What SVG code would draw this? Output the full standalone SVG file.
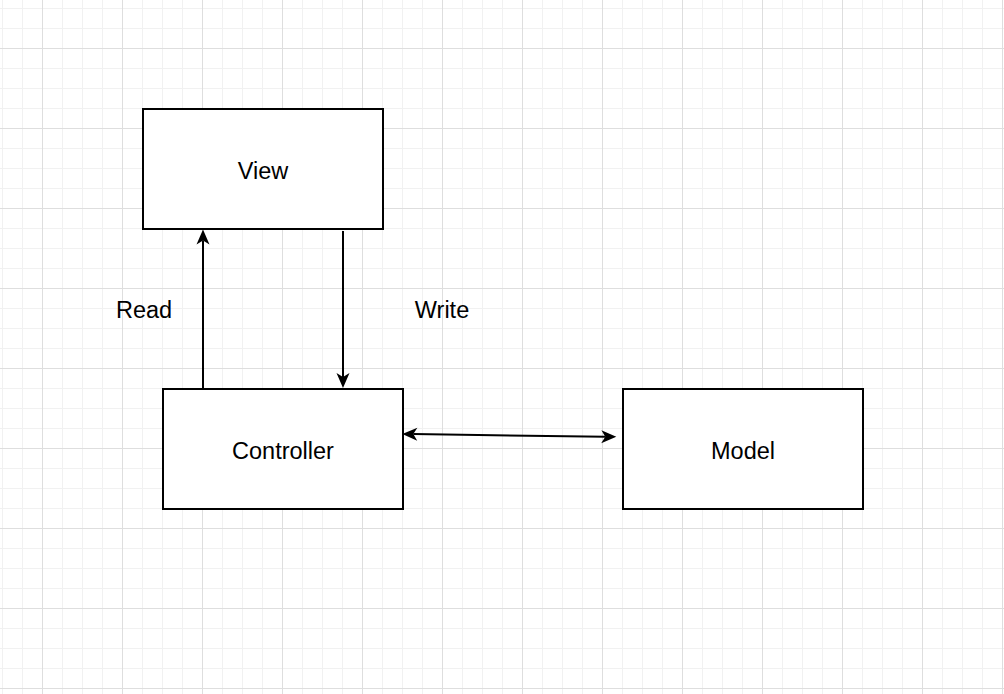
<svg xmlns="http://www.w3.org/2000/svg" width="1004" height="694" viewBox="0 0 1004 694">
  <style>
    .box { fill: #ffffff; stroke: #000000; stroke-width: 2; }
    .label { font-family: "Liberation Sans", Arial, Helvetica, sans-serif; font-size: 23.5px; fill: #000000; text-anchor: middle; }
    .edge { fill: none; stroke: #000000; stroke-width: 2; }
  </style>
  <defs>
    <!-- background grid: minor lines every 20px, major every 80px -->
    <pattern id="grid" patternUnits="userSpaceOnUse" x="2" y="8" width="80" height="80">
      <path d="M0.5 0V80M20.5 0V80M60.5 0V80M0 0.5H80M0 20.5H80M0 60.5H80" fill="none" stroke="#f1f1f1" stroke-width="1"/>
      <path d="M40.5 0V80M0 40.5H80" fill="none" stroke="#dedede" stroke-width="1"/>
    </pattern>
    <!-- classic notched arrowhead; reference point sits at the notch -->
    <marker id="arrow" markerUnits="userSpaceOnUse" viewBox="0 0 17 16" markerWidth="17" markerHeight="16" refX="5" refY="8" orient="auto-start-reverse">
      <path d="M16 8L1 1.5L5 8L1 14.5Z" fill="#000000"/>
    </marker>
  </defs>

  <rect width="1004" height="694" fill="#ffffff"/>
  <rect width="1004" height="694" fill="url(#grid)"/>

  <g id="connectors">
    <path id="edge-read" class="edge" d="M203 389V240.5" marker-end="url(#arrow)"/>
    <path id="edge-write" class="edge" d="M343 231V377" marker-end="url(#arrow)"/>
    <path id="edge-controller-model" class="edge" d="M413.3 434.1L605.3 436.7" marker-start="url(#arrow)" marker-end="url(#arrow)"/>
    <text class="label" x="144" y="318">Read</text>
    <text class="label" x="442" y="318">Write</text>
  </g>

  <g id="node-view">
    <rect class="box" x="143" y="109" width="240" height="120"/>
    <text class="label" x="263" y="179">View</text>
  </g>

  <g id="node-controller">
    <rect class="box" x="163" y="389" width="240" height="120"/>
    <text class="label" x="283" y="459">Controller</text>
  </g>

  <g id="node-model">
    <rect class="box" x="623" y="389" width="240" height="120"/>
    <text class="label" x="743" y="459">Model</text>
  </g>
</svg>
